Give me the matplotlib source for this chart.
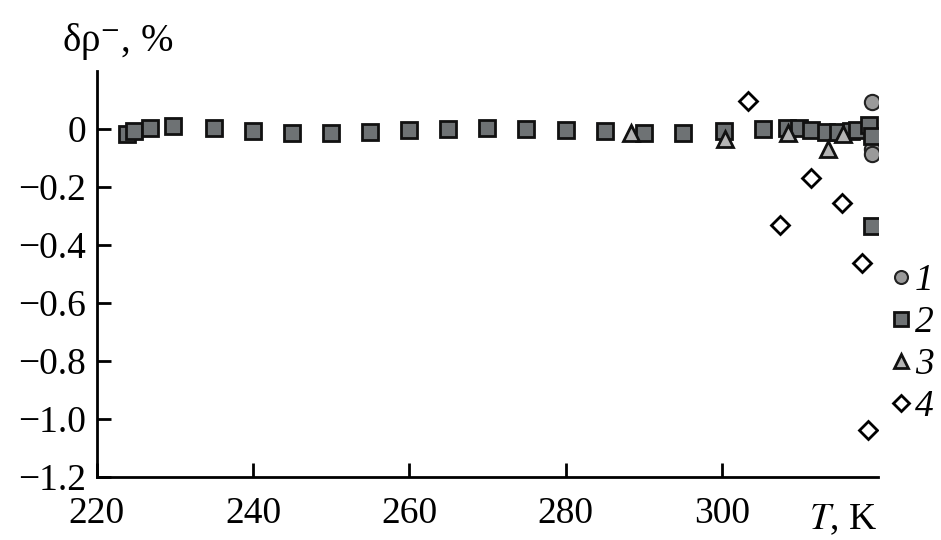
import matplotlib.pyplot as plt
from matplotlib.ticker import FuncFormatter

plt.rcParams['font.family'] = ['Liberation Serif', 'DejaVu Serif']
plt.rcParams['mathtext.fontset'] = 'stix'

# series 1 (circles)
t1 = [319.2, 319.2, 319.2]
d1 = [0.091, -0.070, -0.088]

# series 2 (squares)
t2 = [223.8, 224.8, 226.8, 229.8, 235, 240, 245, 250, 255, 260, 265, 270, 275,
      280, 285, 290, 295, 300.3, 305.3, 308.4, 309.9, 311.4, 313.3, 314.9,
      316.5, 317.3, 318.8, 319.2, 319.2]
d2 = [-0.018, -0.007, 0.002, 0.008, 0.002, -0.007, -0.015, -0.016, -0.011,
      -0.005, -0.001, 0.002, -0.001, -0.003, -0.008, -0.013, -0.014, -0.009,
      -0.001, 0.002, 0.002, -0.004, -0.010, -0.010, -0.008, -0.006, 0.013,
      -0.024, -0.336]

# series 3 (triangles)
t3 = [288.4, 300.4, 308.5, 313.6, 315.5]
d3 = [-0.013, -0.036, -0.013, -0.070, -0.018]

# series 4 (diamonds)
t4 = [303.3, 307.4, 311.4, 315.4, 317.9, 318.7]
d4 = [0.097, -0.332, -0.171, -0.257, -0.463, -1.038]

xticks = [220, 240, 260, 280, 300]
yticks = [0, -0.2, -0.4, -0.6, -0.8, -1.0, -1.2]

fig = plt.figure(figsize=(9.41, 5.4), dpi=100)
ax = fig.add_axes([0.103, 0.117, 0.83, 0.752])

fs = 27
ax.plot(t2, d2, 's', ms=11.5, mfc='#6e7274', mec='#111111', mew=2, label='2', zorder=3)
ax.plot(t3, d3, '^', ms=12, mfc='#b4b4b4', mec='#111111', mew=2, label='3', zorder=4)
ax.plot(t1, d1, 'o', ms=11, mfc='#9a9a9a', mec='#222222', mew=1.5, label='1', zorder=2)
ax.plot(t4, d4, 'D', ms=9, mfc='white', mec='black', mew=2, label='4', zorder=5)

ax.set_xlim(220, 320)
ax.set_ylim(-1.2, 0.2)
ax.set_xticks(xticks)
ax.set_yticks(yticks)
ax.yaxis.set_major_formatter(FuncFormatter(lambda v, p: '0' if v == 0 else ('%.1f' % v).replace('-', '\u2212')))
ax.tick_params(direction='in', length=10, width=2, labelsize=fs)
ax.tick_params(axis='x', pad=14)
ax.tick_params(axis='y', pad=8)
for s in ['top', 'right']:
    ax.spines[s].set_visible(False)
for s in ['left', 'bottom']:
    ax.spines[s].set_linewidth(2)

ax.text(315.5, -1.29, '$T$, K', fontsize=fs, ha='center', va='top')
fig.text(0.066, 0.905, 'δρ$^{\u2212}$, %', fontsize=28, ha='left', va='baseline')

h, l = ax.get_legend_handles_labels()
order = [2, 0, 1, 3]
leg = ax.legend([h[i] for i in order], [l[i] for i in order], loc='center left',
                bbox_to_anchor=(0.947, 0.364), bbox_transform=fig.transFigure,
                frameon=False, handlelength=0.55, handletextpad=0.08,
                borderpad=0, borderaxespad=0,
                labelspacing=0.2, markerscale=0.85,
                prop={'family': 'Liberation Serif', 'style': 'italic', 'size': fs})

fig.savefig('out.png', dpi=100)
